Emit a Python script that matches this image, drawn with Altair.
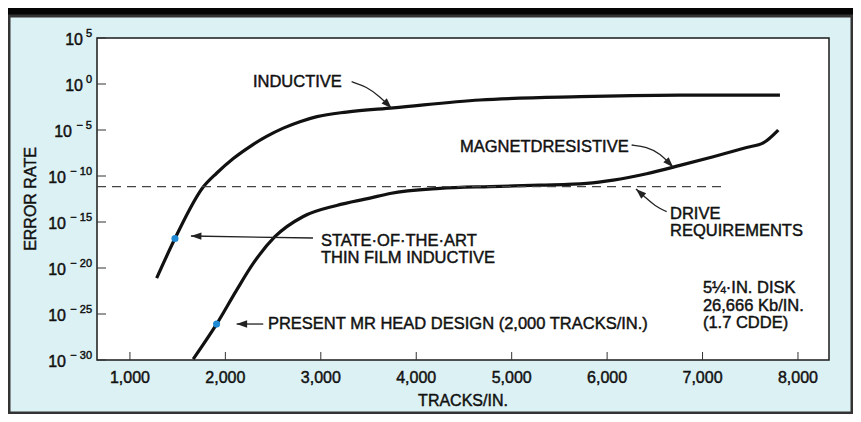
import altair as alt
import pandas as pd

# ---------------- data ----------------
# Inductive head curve (tracks/in, log10 error rate)
ind_x = [1280, 1472, 1768, 1908, 2083, 2258, 2432, 2607, 2781, 2960, 3270, 3759, 4668, 5716, 6763, 7811]
ind_exp = [-21.1, -16.8, -11.2, -9.7, -8.1, -6.8, -5.7, -4.8, -4.1, -3.55, -3.05, -2.6, -1.74, -1.38, -1.22, -1.2]

# Magnetoresistive head curve
mr_x = [1663, 1908, 2118, 2292, 2519, 2816, 3166, 3515, 3725, 4249, 4772, 5296, 5785, 6064, 6414, 6763, 7112, 7461, 7636, 7793]
mr_exp = [-29.9, -26.1, -22.4, -19.5, -16.6, -14.4, -13.2, -12.4, -11.9, -11.35, -11.15, -11.0, -10.8, -10.45, -9.75, -8.85, -7.9, -6.9, -6.4, -5.0]

# Drive requirement (dashed)
drive_x = [655, 7235]
drive_exp = [-11.16, -11.16]

# Highlighted design points
dot_x = [1472, 1908]
dot_exp = [-16.8, -26.1]

# Axis ticks
x_ticks = [1000, 2000, 3000, 4000, 5000, 6000, 7000, 8000]
x_tick_labels = ["1,000", "2,000", "3,000", "4,000", "5,000", "6,000", "7,000", "8,000"]
y_tick_exp = [5, 0, -5, -10, -15, -20, -25, -30]
y_tick_sup = ["5", "0", "− 5", "− 10", "− 15", "− 20", "− 25", "− 30"]

# Annotation text lines
ann_text = ["INDUCTIVE", "MAGNETDRESISTIVE", "DRIVE", "REQUIREMENTS",
            "STATE·OF·THE·ART", "THIN FILM INDUCTIVE",
            "PRESENT MR HEAD DESIGN (2,000 TRACKS/IN.)",
            "5¼·IN. DISK", "26,666 Kb/IN.", "(1.7 CDDE)"]
ann_x = [2289, 4458, 6659, 6659, 3001, 3001, 2446, 7004, 7004, 7004]
ann_exp = [-0.38, -7.39, -14.67, -16.52, -17.61, -19.46, -26.63, -22.72, -24.68, -26.52]

# Leader arrows
arrow_id = [1, 1, 1, 1, 2, 2, 2, 2, 3, 3, 3, 3, 4, 4, 5, 5]
arrow_ord = [0, 1, 2, 3, 0, 1, 2, 3, 0, 1, 2, 3, 0, 1, 0, 1]
arrow_x = [3323, 3480, 3620, 3742, 6257, 6414, 6554, 6693, 6624, 6501, 6397, 6302, 2918, 1639, 2397, 2118]
arrow_exp = [0.25, -0.29, -1.38, -2.64, -6.63, -6.82, -7.53, -9.06, -13.88, -13.26, -12.28, -11.41, -16.74, -16.52, -26.09, -26.09]
head_x = [3742, 6693, 6302, 1639, 2118]
head_exp = [-2.64, -9.06, -11.41, -16.52, -26.09]
head_angle = [135, 136, 312, 271, 270]

x_title = "TRACKS/IN."
y_title = "ERROR RATE"

# ---------------- tables ----------------
def tab(xs, es, **extra):
    d = pd.DataFrame({"x": xs, "e": es, **extra})
    d["y"] = 10.0 ** d["e"]
    return d

ind_df = tab(ind_x, ind_exp)
mr_df = tab(mr_x, mr_exp)
drive_df = tab(drive_x, drive_exp)
dot_df = tab(dot_x, dot_exp)
ann_df = tab(ann_x, ann_exp, t=ann_text)
arrow_df = tab(arrow_x, arrow_exp, id=arrow_id, o=arrow_ord)
head_df = tab(head_x, head_exp, a=head_angle)
xt_df = pd.DataFrame({"x": x_ticks, "t": x_tick_labels})
yt_df = pd.DataFrame({"y": [10.0 ** e for e in y_tick_exp], "sup": y_tick_sup,
                      "n": [len(s.replace(" ", "")) for s in y_tick_sup]})
one = pd.DataFrame({"k": [0]})

FONT = "Liberation Sans"
INK = "#111"
W, H = 732, 322

xs = alt.Scale(domain=[655, 8325], nice=False, zero=False)
ys = alt.Scale(type="log", domain=[1e-30, 1e5], nice=False)

X = alt.X("x:Q", scale=xs, axis=None)
Y = alt.Y("y:Q", scale=ys, axis=None)

txt = dict(font=FONT, color=INK, stroke=INK, strokeWidth=0.45)

ind_line = alt.Chart(ind_df).mark_line(color=INK, strokeWidth=3.2, interpolate="monotone").encode(x=X, y=Y)
mr_line = alt.Chart(mr_df).mark_line(color=INK, strokeWidth=3.2, interpolate="monotone").encode(x=X, y=Y)
drive_line = alt.Chart(drive_df).mark_line(color="#444", strokeWidth=1.3, strokeDash=[9, 6]).encode(x=X, y=Y)
dots = alt.Chart(dot_df).mark_circle(color="#1e8ad6", size=50, opacity=1).encode(x=X, y=Y)

arrows = alt.Chart(arrow_df).mark_line(color="#222", strokeWidth=1.3, interpolate="basis").encode(
    x=X, y=Y, detail="id:N", order="o:Q")
heads = alt.Chart(head_df).mark_point(
    shape="M0,0L0.7,2L-0.7,2Z", filled=True, color="#222", size=110, opacity=1
).encode(x=X, y=Y, angle=alt.Angle("a:Q", scale=None))

labels = alt.Chart(ann_df).mark_text(
    align="left", baseline="alphabetic", fontSize=16.5, **txt
).encode(x=X, y=Y, text="t:N")

# ticks (drawn inward)
yticks = alt.Chart(yt_df).mark_rule(color="#333", strokeWidth=1).encode(
    y=Y, x=alt.value(0), x2=alt.value(9))
xticks = alt.Chart(xt_df).mark_rule(color="#333", strokeWidth=1).encode(
    x=X, y=alt.value(H), y2=alt.value(H - 8))

# tick labels
xlab = alt.Chart(xt_df).mark_text(align="center", baseline="alphabetic", fontSize=16, **txt).encode(
    x=X, y=alt.value(H + 23), text="t:N")
ysup = alt.Chart(yt_df).mark_text(align="right", baseline="alphabetic", fontSize=11, dy=-1, **txt).encode(
    y=Y, x=alt.value(-5), text="sup:N")
ten_layers = []
for n, xpos in [(1, -14), (2, -25), (3, -31)]:
    ten_layers.append(
        alt.Chart(yt_df).transform_filter(alt.datum.n == n).mark_text(
            align="right", baseline="middle", fontSize=16, dy=2, text="10", **txt
        ).encode(y=Y, x=alt.value(xpos))
    )

xtitle = alt.Chart(one).mark_text(align="center", baseline="alphabetic", fontSize=16, text=x_title, **txt).encode(
    x=alt.value(W / 2), y=alt.value(H + 46))
ytitle = alt.Chart(one).mark_text(align="center", baseline="middle", fontSize=16, angle=270, text=y_title, **txt).encode(
    x=alt.value(-66), y=alt.value(H / 2))

band = alt.Chart(one).mark_rect(color="#050505").encode(
    x=alt.value(-89), x2=alt.value(W + 24), y=alt.value(-30), y2=alt.value(-21))
frame = alt.Chart(one).mark_rect(fill="transparent", stroke="#333", strokeWidth=3).encode(
    x=alt.value(-88), x2=alt.value(W + 23), y=alt.value(-22), y2=alt.value(H + 53))

chart = alt.layer(
    ind_line, mr_line, drive_line, arrows, heads, dots, labels, yticks, xticks,
    xlab, ysup, *ten_layers, xtitle, ytitle, band, frame
).properties(
    width=W, height=H,
    autosize=alt.AutoSizeParams(type="none"),
    padding={"left": 89, "top": 30, "right": 24, "bottom": 54},
    background="#dcf1f4",
).configure_view(stroke="#1a1a1a", strokeWidth=1.5, fill="white")

chart.save("out.html", embed_options={"renderer": "svg", "actions": False})
